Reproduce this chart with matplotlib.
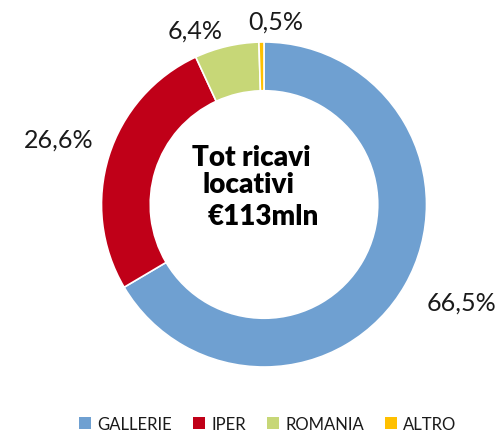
import matplotlib
matplotlib.use("Agg")
import matplotlib.pyplot as plt
from matplotlib.patches import Patch

categories = ["GALLERIE", "IPER", "ROMANIA", "ALTRO"]
values = [66.5, 26.6, 6.4, 0.5]
value_labels = ["66,5%", "26,6%", "6,4%", "0,5%"]
colors = ["#6fa0d1", "#c00018", "#c7d777", "#ffc000"]
center_lines = ["Tot ricavi", "locativi", "€113mln"]

W, H = 503, 435
fig = plt.figure(figsize=(W / 100, H / 100), dpi=100)
ax = fig.add_axes([0, 0, 1, 1])

cx, cy = 264, H - 205.5
R = 162.5
ax.pie(values, colors=colors, startangle=90, counterclock=False,
       center=(cx, cy), radius=R,
       wedgeprops=dict(width=R * 0.30, edgecolor="white", linewidth=1.2))
ax.set_xlim(0, W)
ax.set_ylim(0, H)
ax.set_aspect("equal")
ax.axis("off")

FONT = ["Lato", "DejaVu Sans"]
label_pos = [(462, H - 303), (59, H - 140), (195, H - 31.5), (275.5, H - 22)]
for (x, y), t in zip(label_pos, value_labels):
    ax.text(x, y, t, ha="center", va="center", fontsize=18, family=FONT, color="#1a1a1a")

line_pos = [(251, H - 158.5), (249, H - 185.5), (263, H - 217.5)]
for (x, y), t in zip(line_pos, center_lines):
    ax.text(x, y, t, ha="center", va="center", fontsize=20, fontweight="heavy",
            family=FONT, color="black")

handles = [Patch(facecolor=c, edgecolor="none") for c in colors]
leg = fig.legend(handles, categories, loc="center", bbox_to_anchor=(0.532, 1 - 425 / H),
                 ncol=4, frameon=False, handlelength=0.75, handleheight=0.75,
                 handletextpad=0.35, columnspacing=1.25,
                 prop={"family": FONT, "size": 12})
for t in leg.get_texts():
    t.set_color("#1a1a1a")

fig.savefig("out.png", dpi=100)
